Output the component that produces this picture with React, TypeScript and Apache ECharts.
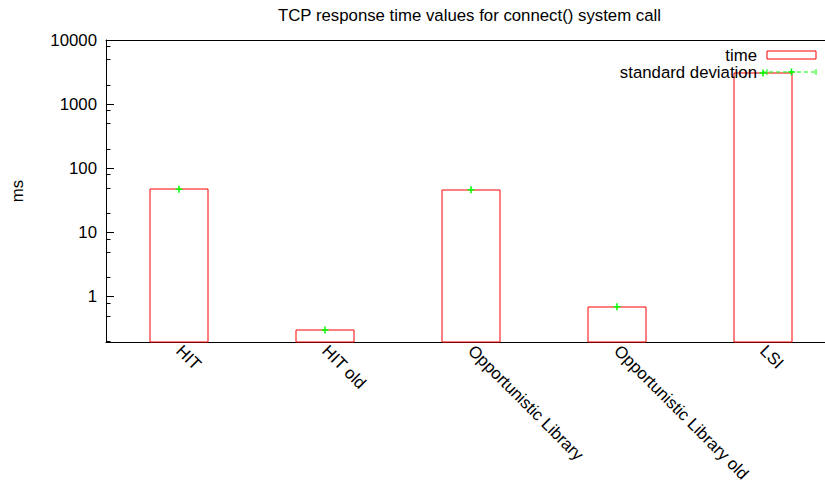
import React, { useEffect, useRef } from "react";
import * as echarts from "echarts";

const categories = ["HIT", "HIT old", "Opportunistic Library", "Opportunistic Library old", "LSI"];
const timeValues = [47, 0.3, 46, 0.69, 3070];
const stdDevPoints = [47, 0.3, 46, 0.69, 3070];
const yMin = 0.195;
const yMax = 10000;
const majorTicks = [1, 10, 100, 1000, 10000];
const minorTicks = [0.2, 0.5, 0.8, 2, 5, 8, 20, 50, 80, 200, 500, 800, 2000, 5000, 8000];

const FONT = "'Liberation Sans', Arial, Helvetica, sans-serif";
const FS = 16.8;
const RED = "#ff0000";
const GREEN = "#00ff00";

export default function App() {
  const ref = useRef<HTMLDivElement>(null);
  useEffect(() => {
    if (!ref.current) return;
    const chart = echarts.init(ref.current, null, { renderer: "svg" });
    const txt = (text: string, x: number, y: number) => ({
      type: "text",
      x,
      y,
      z: 20,
      style: {
        text,
        fill: "#000",
        fontSize: FS,
        fontFamily: FONT,
        align: "right",
        verticalAlign: "middle",
        textAlign: "right",
        textVerticalAlign: "middle",
      },
    });
    const option: any = {
      animation: false,
      backgroundColor: "#fff",
      title: {
        text: "TCP response time values for connect() system call",
        left: 278,
        top: 7,
        padding: 0,
        textStyle: { fontSize: FS, fontWeight: "normal", color: "#000", fontFamily: FONT },
      },
      grid: { left: 106, right: 0, top: 40, bottom: 145, containLabel: false },
      xAxis: [
        {
          type: "category",
          data: categories,
          boundaryGap: true,
          position: "bottom",
          axisLine: { lineStyle: { color: "#000", width: 1 } },
          axisTick: { inside: true, alignWithLabel: true, length: 7, lineStyle: { color: "#000" } },
          axisLabel: {
            rotate: -45,
            margin: 6,
            interval: 0,
            color: "#000",
            fontSize: FS,
            fontFamily: FONT,
          },
          splitLine: { show: false },
        },
        {
          type: "category",
          data: categories,
          boundaryGap: true,
          position: "top",
          axisLine: { lineStyle: { color: "#000", width: 1 } },
          axisTick: { inside: true, alignWithLabel: true, length: 7, lineStyle: { color: "#000" } },
          axisLabel: { show: false },
          splitLine: { show: false },
        },
      ],
      yAxis: [
        {
          type: "log",
          logBase: 10,
          min: yMin,
          max: yMax,
          name: "ms",
          nameLocation: "middle",
          nameRotate: 90,
          nameGap: 80,
          nameTextStyle: { fontSize: FS, fontFamily: FONT, color: "#000" },
          axisLine: { show: true, lineStyle: { color: "#000", width: 1 } },
          axisTick: { show: true, inside: true, length: 8, customValues: majorTicks, lineStyle: { color: "#000" } },
          axisLabel: {
            customValues: majorTicks,
            margin: 9,
            color: "#000",
            fontSize: FS,
            fontFamily: FONT,
            formatter: (v: number) => String(Math.round(v)),
          },
          splitLine: { show: false },
        },
      ],
      series: [
        {
          name: "minor ticks",
          type: "custom",
          xAxisIndex: 0,
          yAxisIndex: 0,
          data: minorTicks.map((v) => [0, v]),
          encode: { x: 0, y: 1 },
          silent: true,
          clip: false,
          renderItem: (params: any, api: any) => {
            const p = api.coord([0, api.value(1)]);
            const x0 = params.coordSys.x;
            const y = Math.round(p[1]) + 0.5;
            return {
              type: "line",
              shape: { x1: x0, y1: y, x2: x0 + 4.5, y2: y },
              style: { stroke: "#000", lineWidth: 1, fill: null },
            };
          },
          z: 5,
        },
        {
          name: "time",
          type: "custom",
          xAxisIndex: 0,
          yAxisIndex: 0,
          data: timeValues.map((v, i) => [i, v]),
          encode: { x: 0, y: 1 },
          renderItem: (params: any, api: any) => {
            const idx = api.value(0);
            const v = api.value(1);
            const top = api.coord([idx, v]);
            const bottom = api.coord([idx, yMin]);
            const band = params.coordSys.width / categories.length;
            const w = band * 0.4;
            const x = Math.round(top[0] - w / 2);
            const y = Math.round(top[1]);
            return {
              type: "rect",
              shape: { x, y, width: Math.round(w), height: bottom[1] - y },
              style: { fill: "rgba(0,0,0,0)", stroke: RED, lineWidth: 1 },
            };
          },
          z: 2,
        },
        {
          name: "standard deviation",
          type: "scatter",
          xAxisIndex: 0,
          yAxisIndex: 0,
          data: stdDevPoints,
          symbol: "path://M0,5L10,5M5,0L5,10",
          symbolSize: 7,
          itemStyle: { color: "rgba(0,0,0,0)", borderColor: GREEN, borderWidth: 1.5, opacity: 1 },
          z: 3,
        },
      ],
      graphic: [
        txt("time", 757, 55),
        {
          type: "rect",
          shape: { x: 767, y: 51, width: 49, height: 8 },
          style: { fill: "rgba(0,0,0,0)", stroke: RED, lineWidth: 1 },
          z: 10,
        },
        txt("standard deviation", 757, 72),
        {
          type: "line",
          shape: { x1: 762, y1: 72, x2: 816, y2: 72 },
          style: { stroke: GREEN, lineWidth: 1, lineDash: [4, 3] },
          z: 10,
        },
        {
          type: "line",
          shape: { x1: 767, y1: 69, x2: 767, y2: 75 },
          style: { stroke: GREEN, lineWidth: 1 },
          z: 10,
        },
        {
          type: "line",
          shape: { x1: 816, y1: 69, x2: 816, y2: 75 },
          style: { stroke: GREEN, lineWidth: 1 },
          z: 10,
        },
        {
          type: "line",
          shape: { x1: 788, y1: 72, x2: 795, y2: 72 },
          style: { stroke: GREEN, lineWidth: 1.5 },
          z: 10,
        },
        {
          type: "line",
          shape: { x1: 791.5, y1: 68.5, x2: 791.5, y2: 75.5 },
          style: { stroke: GREEN, lineWidth: 1.5 },
          z: 10,
        },
      ],
    };
    chart.setOption(option);
    return () => chart.dispose();
  }, []);
  return (
    <div style={{ position: "absolute", left: 0, top: 0, width: 825, height: 487, overflow: "hidden", background: "#fff" }}>
      <div ref={ref} style={{ position: "absolute", left: 0, top: 0, width: 836, height: 487 }} />
    </div>
  );
}
